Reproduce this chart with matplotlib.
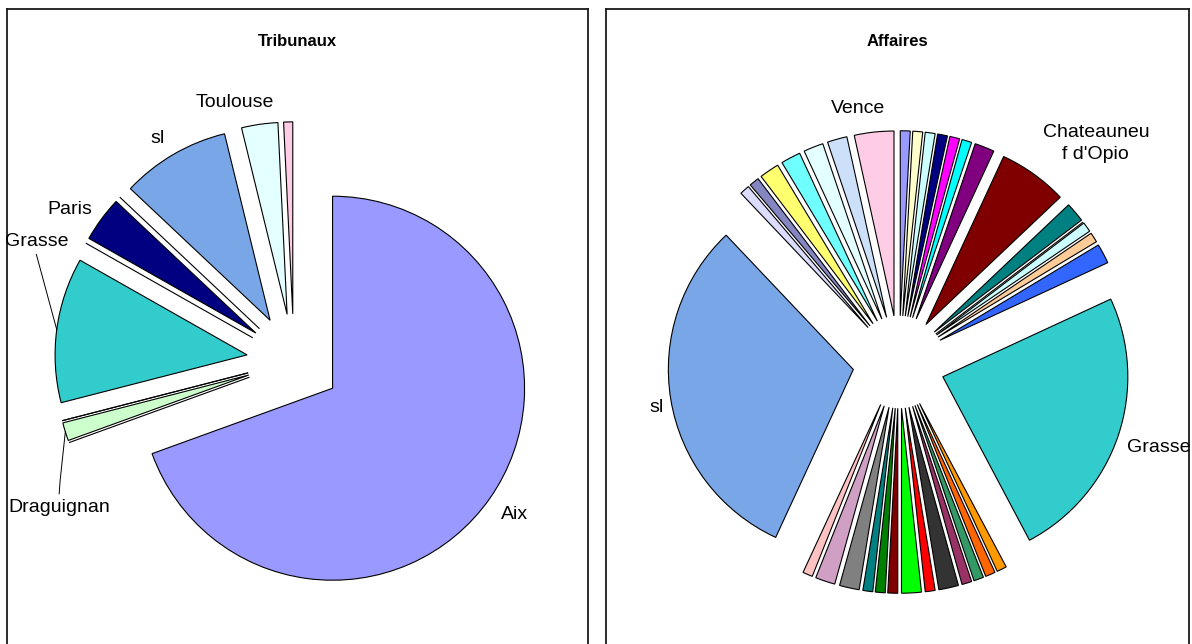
import numpy as np
import matplotlib
matplotlib.use("Agg")
import matplotlib.pyplot as plt

plt.rcParams['font.family'] = ['Liberation Sans', 'DejaVu Sans']

W, H = 1192, 644

# --- Tribunaux (clockwise from 12 o'clock) ---
trib_labels = ['Aix', '', 'Draguignan', '', '', 'Grasse', '', 'Paris', '', 'sl', 'Toulouse', '']
trib_values = [91, 0, 2, 0, 0, 16, 0, 5, 0, 12, 4, 1]
trib_colors = ['#9999FF', 'white', '#CCFFCC', 'white', 'white', '#33CCCC', 'white',
               '#000080', 'white', '#79A6E6', '#E4FFFF', '#FFCCE6']

# --- Affaires (clockwise from 12 o'clock) ---
aff_labels = ['', '', '', '', '', '', '', "Chateauneu\nf d'Opio", '', '', '', '', '',
              'Grasse', '', '', '', '', '', '', '', '', '', '', '', '', '',
              'sl', '', '', '', '', '', '', 'Vence']
aff_values = [1, 1, 1, 1, 1, 1, 2, 7, 2, 0, 1, 1, 2,
              28, 1, 1, 1, 1, 2, 1, 2, 1, 1, 1, 2, 2, 1,
              36, 1, 1, 2, 2, 2, 2, 4]
aff_colors = ['#9999FF', '#FFFFCC', '#CCFFFF', '#000080', '#FF00FF', '#00FFFF', '#800080',
              '#800000', '#008080', 'white', '#CCFFFF', '#FFCC99', '#3366FF',
              '#33CCCC', '#FF9900', '#FF6600', '#339966', '#993366', '#333333', '#FF0000',
              '#00FF00', '#800000', '#008000', '#008080', '#808080', '#CFA0C4', '#FFC2C2',
              '#79A6E6', '#DCDCFF', '#8585C2', '#FFFF70', '#70FFFF', '#E4FFFF', '#CCE0FA',
              '#FFCCE6']

# label placement: (angle in degrees, distance in radii) from the pie centre
trib_label_pos = {'Aix': (-34.9, 1.40), 'Draguignan': (211.9, 1.44), 'Grasse': (155.0, 1.48),
                  'Paris': (145.9, 1.41), 'sl': (121.4, 1.36), 'Toulouse': (102.8, 1.38)}
aff_label_pos = {'Vence': (99.1, 1.39), "Chateauneu\nf d'Opio": (48.0, 1.59),
                 'sl': (190.7, 1.335), 'Grasse': (-18.2, 1.48)}

fig = plt.figure(figsize=(W / 100, H / 100), dpi=100)


def make_axes(x0, x1, y0, y1):
    return fig.add_axes([x0 / W, 1 - y1 / H, (x1 - x0) / W, (y1 - y0) / H])


def polar(ang, d):
    a = np.radians(ang)
    return d * np.cos(a), d * np.sin(a)


def draw_pie(ax, box, centre, r, values, colors, explode, title):
    x0, x1, y0, y1 = box
    cx, cy = centre
    wedges, _ = ax.pie(values, colors=colors, explode=[explode] * len(values),
                       startangle=90, counterclock=False,
                       wedgeprops=dict(edgecolor='black', linewidth=0.8))
    ax.set_xlim((x0 - cx) / r, (x1 - cx) / r)
    ax.set_ylim((cy - y1) / r, (cy - y0) / r)
    ax.set_aspect('auto')
    ax.set_frame_on(True)
    for side in ['left', 'right', 'top']:
        ax.spines[side].set_visible(True)
        ax.spines[side].set_linewidth(1.3)
        ax.spines[side].set_color('#1a1a1a')
    ax.spines['bottom'].set_visible(False)
    ax.text(0.5, 1 - 33 / (y1 - y0), title, transform=ax.transAxes, ha='center', va='center',
            fontsize=12, fontweight='bold')
    return wedges


# left chart
axl = make_axes(7, 588, 9, 646)
wl = draw_pie(axl, (7, 588, 9, 646), (293.9, 361.1), 192, trib_values, trib_colors,
              0.246, 'Tribunaux')
for lab, (ang, d) in trib_label_pos.items():
    x, y = polar(ang, d)
    axl.text(x, y, lab, ha='center', va='center', fontsize=14)

# leader lines for the dragged labels
for lab, dy, elbow in [('Grasse', -0.07, False), ('Draguignan', 0.07, True)]:
    i = trib_labels.index(lab)
    w = wl[i]
    mid = np.radians((w.theta1 + w.theta2) / 2)
    ax_, ay_ = w.center[0] + np.cos(mid) * w.r, w.center[1] + np.sin(mid) * w.r
    tx, ty = polar(*trib_label_pos[lab])
    pts = [(tx, ty + dy)]
    if elbow:
        pts.append((tx + 0.005, ty + dy + 0.07))
    pts.append((ax_, ay_))
    xs, ys = zip(*pts)
    axl.plot(xs, ys, color='black', linewidth=0.7)

# right chart
axr = make_axes(606, 1189, 9, 646)
wr = draw_pie(axr, (606, 1189, 9, 646), (899, 362), 185, aff_values, aff_colors,
              0.25, 'Affaires')
for lab, (ang, d) in aff_label_pos.items():
    x, y = polar(ang, d)
    axr.text(x, y, lab, ha='center', va='center', fontsize=14, linespacing=1.4)

fig.savefig('out.png', dpi=100)
